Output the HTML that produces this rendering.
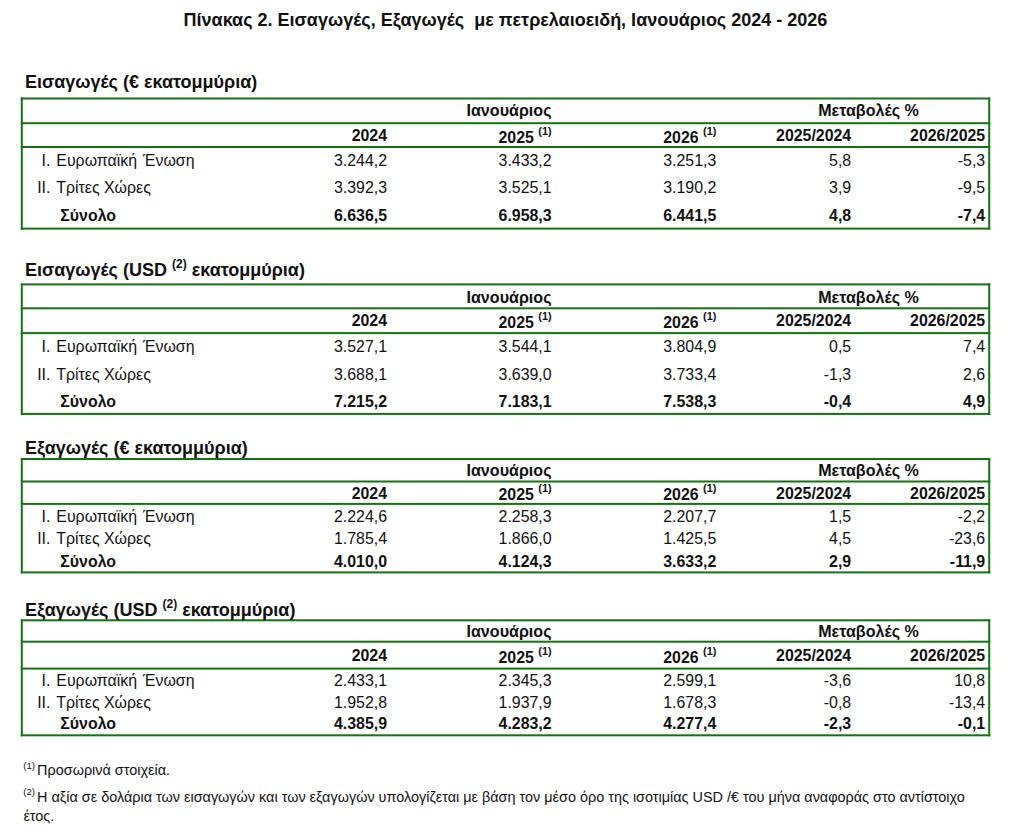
<!DOCTYPE html>
<html><head><meta charset="utf-8"><style>
html,body{margin:0;padding:0;background:#fff;}
body{width:1024px;height:834px;position:relative;overflow:hidden;font-family:"Liberation Sans",sans-serif;}
.t{position:absolute;white-space:nowrap;line-height:1;}
.l{position:absolute;background:#157212;box-shadow:0 0 1px rgba(40,140,40,0.55);}
</style></head><body>
<svg width="1024" height="834" style="position:absolute;left:0;top:0" fill="#157212"><rect x="20.80" y="97.50" width="969.40" height="2.0"/><rect x="20.80" y="122.20" width="969.40" height="2.0"/><rect x="20.80" y="146.00" width="969.40" height="2.0"/><rect x="20.80" y="227.60" width="969.40" height="2.0"/><rect x="20.80" y="97.50" width="2.0" height="132.10"/><rect x="988.20" y="97.50" width="2.0" height="132.10"/><rect x="20.80" y="283.40" width="969.40" height="2.0"/><rect x="20.80" y="307.30" width="969.40" height="2.0"/><rect x="20.80" y="332.10" width="969.40" height="2.0"/><rect x="20.80" y="412.90" width="969.40" height="2.0"/><rect x="20.80" y="283.40" width="2.0" height="131.50"/><rect x="988.20" y="283.40" width="2.0" height="131.50"/><rect x="20.80" y="458.00" width="969.40" height="2.0"/><rect x="20.80" y="480.50" width="969.40" height="2.0"/><rect x="20.80" y="502.90" width="969.40" height="2.0"/><rect x="20.80" y="571.40" width="969.40" height="2.0"/><rect x="20.80" y="458.00" width="2.0" height="115.40"/><rect x="988.20" y="458.00" width="2.0" height="115.40"/><rect x="20.80" y="619.30" width="969.40" height="2.0"/><rect x="20.80" y="640.70" width="969.40" height="2.0"/><rect x="20.80" y="667.60" width="969.40" height="2.0"/><rect x="20.80" y="734.30" width="969.40" height="2.0"/><rect x="20.80" y="619.30" width="2.0" height="117.00"/><rect x="988.20" y="619.30" width="2.0" height="117.00"/></svg>
<div class="t" style="left:183.60px;top:11.36px;font-size:18.0px;font-weight:bold;color:#111;">Πίνακας 2. Εισαγωγές, Εξαγωγές &nbsp;με πετρελαιοειδή, Ιανουάριος 2024 - 2026</div>
<div class="t" style="left:24.90px;top:73.26px;font-size:18.0px;font-weight:bold;color:#111;">Εισαγωγές (€ εκατομμύρια)</div>
<div class="t" style="left:466.50px;top:102.17px;font-size:16.1px;font-weight:bold;color:#111;">Ιανουάριος</div>
<div class="t" style="left:818.20px;top:102.17px;font-size:16.1px;font-weight:bold;color:#111;">Μεταβολές %</div>
<div class="t" style="right:637.00px;top:128.44px;font-size:15.9px;font-weight:bold;color:#111;">2024</div>
<div class="t" style="right:472.40px;top:130.04px;font-size:15.9px;font-weight:bold;color:#111;">2025 <span style="font-size:10.9px;position:relative;top:-8.0px">(1)</span></div>
<div class="t" style="right:307.70px;top:130.04px;font-size:15.9px;font-weight:bold;color:#111;">2026 <span style="font-size:10.9px;position:relative;top:-8.0px">(1)</span></div>
<div class="t" style="right:172.80px;top:128.44px;font-size:15.9px;font-weight:bold;color:#111;">2025/2024</div>
<div class="t" style="right:38.80px;top:128.44px;font-size:15.9px;font-weight:bold;color:#111;">2026/2025</div>
<div class="t" style="right:973.60px;top:153.24px;font-size:15.9px;color:#111;">I.</div>
<div class="t" style="left:56.30px;top:153.24px;font-size:15.9px;color:#111;word-spacing:1.6px;">Ευρωπαϊκή Ένωση</div>
<div class="t" style="right:973.60px;top:180.44px;font-size:15.9px;color:#111;">II.</div>
<div class="t" style="left:56.30px;top:180.44px;font-size:15.9px;color:#111;">Τρίτες Χώρες</div>
<div class="t" style="left:60.30px;top:207.64px;font-size:15.9px;font-weight:bold;color:#111;">Σύνολο</div>
<div class="t" style="right:637.00px;top:153.24px;font-size:15.9px;color:#111;">3.244,2</div>
<div class="t" style="right:472.40px;top:153.24px;font-size:15.9px;color:#111;">3.433,2</div>
<div class="t" style="right:307.70px;top:153.24px;font-size:15.9px;color:#111;">3.251,3</div>
<div class="t" style="right:172.80px;top:153.24px;font-size:15.9px;color:#111;">5,8</div>
<div class="t" style="right:38.80px;top:153.24px;font-size:15.9px;color:#111;">-5,3</div>
<div class="t" style="right:637.00px;top:180.44px;font-size:15.9px;color:#111;">3.392,3</div>
<div class="t" style="right:472.40px;top:180.44px;font-size:15.9px;color:#111;">3.525,1</div>
<div class="t" style="right:307.70px;top:180.44px;font-size:15.9px;color:#111;">3.190,2</div>
<div class="t" style="right:172.80px;top:180.44px;font-size:15.9px;color:#111;">3,9</div>
<div class="t" style="right:38.80px;top:180.44px;font-size:15.9px;color:#111;">-9,5</div>
<div class="t" style="right:637.00px;top:207.64px;font-size:15.9px;font-weight:bold;color:#111;">6.636,5</div>
<div class="t" style="right:472.40px;top:207.64px;font-size:15.9px;font-weight:bold;color:#111;">6.958,3</div>
<div class="t" style="right:307.70px;top:207.64px;font-size:15.9px;font-weight:bold;color:#111;">6.441,5</div>
<div class="t" style="right:172.80px;top:207.64px;font-size:15.9px;font-weight:bold;color:#111;">4,8</div>
<div class="t" style="right:38.80px;top:207.64px;font-size:15.9px;font-weight:bold;color:#111;">-7,4</div>
<div class="t" style="left:24.90px;top:261.46px;font-size:18.0px;font-weight:bold;color:#111;">Εισαγωγές (USD <span style="font-size:12.0px;position:relative;top:-8.4px">(2)</span> εκατομμύρια)</div>
<div class="t" style="left:466.50px;top:289.37px;font-size:16.1px;font-weight:bold;color:#111;">Ιανουάριος</div>
<div class="t" style="left:818.20px;top:289.37px;font-size:16.1px;font-weight:bold;color:#111;">Μεταβολές %</div>
<div class="t" style="right:637.00px;top:313.24px;font-size:15.9px;font-weight:bold;color:#111;">2024</div>
<div class="t" style="right:472.40px;top:314.84px;font-size:15.9px;font-weight:bold;color:#111;">2025 <span style="font-size:10.9px;position:relative;top:-8.0px">(1)</span></div>
<div class="t" style="right:307.70px;top:314.84px;font-size:15.9px;font-weight:bold;color:#111;">2026 <span style="font-size:10.9px;position:relative;top:-8.0px">(1)</span></div>
<div class="t" style="right:172.80px;top:313.24px;font-size:15.9px;font-weight:bold;color:#111;">2025/2024</div>
<div class="t" style="right:38.80px;top:313.24px;font-size:15.9px;font-weight:bold;color:#111;">2026/2025</div>
<div class="t" style="right:973.60px;top:339.24px;font-size:15.9px;color:#111;">I.</div>
<div class="t" style="left:56.30px;top:339.24px;font-size:15.9px;color:#111;word-spacing:1.6px;">Ευρωπαϊκή Ένωση</div>
<div class="t" style="right:973.60px;top:366.94px;font-size:15.9px;color:#111;">II.</div>
<div class="t" style="left:56.30px;top:366.94px;font-size:15.9px;color:#111;">Τρίτες Χώρες</div>
<div class="t" style="left:60.30px;top:393.54px;font-size:15.9px;font-weight:bold;color:#111;">Σύνολο</div>
<div class="t" style="right:637.00px;top:339.24px;font-size:15.9px;color:#111;">3.527,1</div>
<div class="t" style="right:472.40px;top:339.24px;font-size:15.9px;color:#111;">3.544,1</div>
<div class="t" style="right:307.70px;top:339.24px;font-size:15.9px;color:#111;">3.804,9</div>
<div class="t" style="right:172.80px;top:339.24px;font-size:15.9px;color:#111;">0,5</div>
<div class="t" style="right:38.80px;top:339.24px;font-size:15.9px;color:#111;">7,4</div>
<div class="t" style="right:637.00px;top:366.94px;font-size:15.9px;color:#111;">3.688,1</div>
<div class="t" style="right:472.40px;top:366.94px;font-size:15.9px;color:#111;">3.639,0</div>
<div class="t" style="right:307.70px;top:366.94px;font-size:15.9px;color:#111;">3.733,4</div>
<div class="t" style="right:172.80px;top:366.94px;font-size:15.9px;color:#111;">-1,3</div>
<div class="t" style="right:38.80px;top:366.94px;font-size:15.9px;color:#111;">2,6</div>
<div class="t" style="right:637.00px;top:393.54px;font-size:15.9px;font-weight:bold;color:#111;">7.215,2</div>
<div class="t" style="right:472.40px;top:393.54px;font-size:15.9px;font-weight:bold;color:#111;">7.183,1</div>
<div class="t" style="right:307.70px;top:393.54px;font-size:15.9px;font-weight:bold;color:#111;">7.538,3</div>
<div class="t" style="right:172.80px;top:393.54px;font-size:15.9px;font-weight:bold;color:#111;">-0,4</div>
<div class="t" style="right:38.80px;top:393.54px;font-size:15.9px;font-weight:bold;color:#111;">4,9</div>
<div class="t" style="left:24.90px;top:439.36px;font-size:18.0px;font-weight:bold;color:#111;">Εξαγωγές (€ εκατομμύρια)</div>
<div class="t" style="left:466.50px;top:462.37px;font-size:16.1px;font-weight:bold;color:#111;">Ιανουάριος</div>
<div class="t" style="left:818.20px;top:462.37px;font-size:16.1px;font-weight:bold;color:#111;">Μεταβολές %</div>
<div class="t" style="right:637.00px;top:485.64px;font-size:15.9px;font-weight:bold;color:#111;">2024</div>
<div class="t" style="right:472.40px;top:487.24px;font-size:15.9px;font-weight:bold;color:#111;">2025 <span style="font-size:10.9px;position:relative;top:-8.0px">(1)</span></div>
<div class="t" style="right:307.70px;top:487.24px;font-size:15.9px;font-weight:bold;color:#111;">2026 <span style="font-size:10.9px;position:relative;top:-8.0px">(1)</span></div>
<div class="t" style="right:172.80px;top:485.64px;font-size:15.9px;font-weight:bold;color:#111;">2025/2024</div>
<div class="t" style="right:38.80px;top:485.64px;font-size:15.9px;font-weight:bold;color:#111;">2026/2025</div>
<div class="t" style="right:973.60px;top:509.24px;font-size:15.9px;color:#111;">I.</div>
<div class="t" style="left:56.30px;top:509.24px;font-size:15.9px;color:#111;word-spacing:1.6px;">Ευρωπαϊκή Ένωση</div>
<div class="t" style="right:973.60px;top:531.04px;font-size:15.9px;color:#111;">II.</div>
<div class="t" style="left:56.30px;top:531.04px;font-size:15.9px;color:#111;">Τρίτες Χώρες</div>
<div class="t" style="left:60.30px;top:553.84px;font-size:15.9px;font-weight:bold;color:#111;">Σύνολο</div>
<div class="t" style="right:637.00px;top:509.24px;font-size:15.9px;color:#111;">2.224,6</div>
<div class="t" style="right:472.40px;top:509.24px;font-size:15.9px;color:#111;">2.258,3</div>
<div class="t" style="right:307.70px;top:509.24px;font-size:15.9px;color:#111;">2.207,7</div>
<div class="t" style="right:172.80px;top:509.24px;font-size:15.9px;color:#111;">1,5</div>
<div class="t" style="right:38.80px;top:509.24px;font-size:15.9px;color:#111;">-2,2</div>
<div class="t" style="right:637.00px;top:531.04px;font-size:15.9px;color:#111;">1.785,4</div>
<div class="t" style="right:472.40px;top:531.04px;font-size:15.9px;color:#111;">1.866,0</div>
<div class="t" style="right:307.70px;top:531.04px;font-size:15.9px;color:#111;">1.425,5</div>
<div class="t" style="right:172.80px;top:531.04px;font-size:15.9px;color:#111;">4,5</div>
<div class="t" style="right:38.80px;top:531.04px;font-size:15.9px;color:#111;">-23,6</div>
<div class="t" style="right:637.00px;top:553.84px;font-size:15.9px;font-weight:bold;color:#111;">4.010,0</div>
<div class="t" style="right:472.40px;top:553.84px;font-size:15.9px;font-weight:bold;color:#111;">4.124,3</div>
<div class="t" style="right:307.70px;top:553.84px;font-size:15.9px;font-weight:bold;color:#111;">3.633,2</div>
<div class="t" style="right:172.80px;top:553.84px;font-size:15.9px;font-weight:bold;color:#111;">2,9</div>
<div class="t" style="right:38.80px;top:553.84px;font-size:15.9px;font-weight:bold;color:#111;">-11,9</div>
<div class="t" style="left:24.90px;top:601.36px;font-size:18.0px;font-weight:bold;color:#111;">Εξαγωγές (USD <span style="font-size:12.0px;position:relative;top:-8.4px">(2)</span> εκατομμύρια)</div>
<div class="t" style="left:466.50px;top:623.37px;font-size:16.1px;font-weight:bold;color:#111;">Ιανουάριος</div>
<div class="t" style="left:818.20px;top:623.37px;font-size:16.1px;font-weight:bold;color:#111;">Μεταβολές %</div>
<div class="t" style="right:637.00px;top:647.64px;font-size:15.9px;font-weight:bold;color:#111;">2024</div>
<div class="t" style="right:472.40px;top:650.04px;font-size:15.9px;font-weight:bold;color:#111;">2025 <span style="font-size:10.9px;position:relative;top:-8.0px">(1)</span></div>
<div class="t" style="right:307.70px;top:650.04px;font-size:15.9px;font-weight:bold;color:#111;">2026 <span style="font-size:10.9px;position:relative;top:-8.0px">(1)</span></div>
<div class="t" style="right:172.80px;top:647.64px;font-size:15.9px;font-weight:bold;color:#111;">2025/2024</div>
<div class="t" style="right:38.80px;top:647.64px;font-size:15.9px;font-weight:bold;color:#111;">2026/2025</div>
<div class="t" style="right:973.60px;top:672.54px;font-size:15.9px;color:#111;">I.</div>
<div class="t" style="left:56.30px;top:672.54px;font-size:15.9px;color:#111;word-spacing:1.6px;">Ευρωπαϊκή Ένωση</div>
<div class="t" style="right:973.60px;top:695.04px;font-size:15.9px;color:#111;">II.</div>
<div class="t" style="left:56.30px;top:695.04px;font-size:15.9px;color:#111;">Τρίτες Χώρες</div>
<div class="t" style="left:60.30px;top:716.04px;font-size:15.9px;font-weight:bold;color:#111;">Σύνολο</div>
<div class="t" style="right:637.00px;top:672.54px;font-size:15.9px;color:#111;">2.433,1</div>
<div class="t" style="right:472.40px;top:672.54px;font-size:15.9px;color:#111;">2.345,3</div>
<div class="t" style="right:307.70px;top:672.54px;font-size:15.9px;color:#111;">2.599,1</div>
<div class="t" style="right:172.80px;top:672.54px;font-size:15.9px;color:#111;">-3,6</div>
<div class="t" style="right:38.80px;top:672.54px;font-size:15.9px;color:#111;">10,8</div>
<div class="t" style="right:637.00px;top:695.04px;font-size:15.9px;color:#111;">1.952,8</div>
<div class="t" style="right:472.40px;top:695.04px;font-size:15.9px;color:#111;">1.937,9</div>
<div class="t" style="right:307.70px;top:695.04px;font-size:15.9px;color:#111;">1.678,3</div>
<div class="t" style="right:172.80px;top:695.04px;font-size:15.9px;color:#111;">-0,8</div>
<div class="t" style="right:38.80px;top:695.04px;font-size:15.9px;color:#111;">-13,4</div>
<div class="t" style="right:637.00px;top:716.04px;font-size:15.9px;font-weight:bold;color:#111;">4.385,9</div>
<div class="t" style="right:472.40px;top:716.04px;font-size:15.9px;font-weight:bold;color:#111;">4.283,2</div>
<div class="t" style="right:307.70px;top:716.04px;font-size:15.9px;font-weight:bold;color:#111;">4.277,4</div>
<div class="t" style="right:172.80px;top:716.04px;font-size:15.9px;font-weight:bold;color:#111;">-2,3</div>
<div class="t" style="right:38.80px;top:716.04px;font-size:15.9px;font-weight:bold;color:#111;">-0,1</div>
<div class="t" style="left:23.30px;top:761.07px;font-size:9.6px;color:#111;">(1)</div>
<div class="t" style="left:37.10px;top:762.99px;font-size:14.43px;color:#111;">Προσωρινά στοιχεία.</div>
<div class="t" style="left:23.30px;top:787.07px;font-size:9.6px;color:#111;">(2)</div>
<div class="t" style="left:37.10px;top:789.99px;font-size:14.43px;color:#111;">Η αξία σε δολάρια των εισαγωγών και των εξαγωγών υπολογίζεται με βάση τον μέσο όρο της ισοτιμίας USD /€ του μήνα αναφοράς στο αντίστοιχο</div>
<div class="t" style="left:23.40px;top:808.99px;font-size:14.43px;color:#111;">έτος.</div>
</body></html>
